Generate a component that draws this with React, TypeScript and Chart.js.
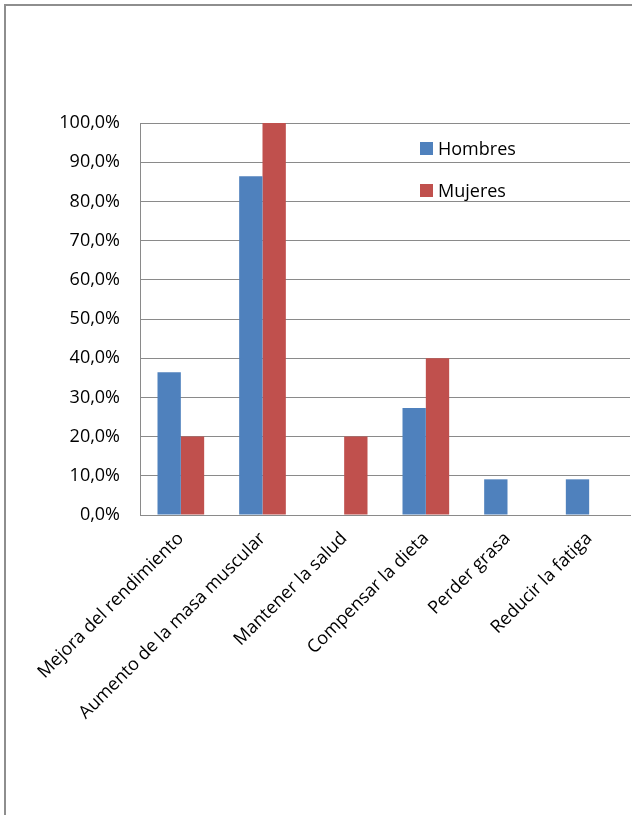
import React, { useEffect, useRef } from "react";
import { Chart, registerables } from "chart.js";

Chart.register(...registerables);

// Motivos de consumo por sexo (%)
const categories = [
  "Mejora del rendimiento",
  "Aumento de la masa muscular",
  "Mantener la salud",
  "Compensar la dieta",
  "Perder grasa",
  "Reducir la fatiga",
];
const seriesNames = ["Hombres", "Mujeres"];
const hombres = [36.4, 86.4, 0, 27.3, 9.1, 9.1];
const mujeres = [20, 100, 20, 40, 0, 0];
const yMin = 0;
const yMax = 100;
const yStep = 10;

const BLUE = "#4F81BD";
const RED = "#C0504D";
const GRID = "#8a8a8a";
const FONT = '"Open Sans", "Noto Sans", sans-serif';

const fmtPct = (v: number) => v.toFixed(1).replace(".", ",") + "%";

// Legend drawn inside the plot area, top right
const boxLegend = {
  id: "boxLegend",
  afterDraw(chart: any) {
    const ctx = chart.ctx;
    ctx.save();
    ctx.font = `18px ${FONT}`;
    ctx.textBaseline = "middle";
    ctx.textAlign = "left";
    chart.data.datasets.forEach((ds: any, i: number) => {
      const cy = 148.5 + i * 42;
      ctx.fillStyle = ds.backgroundColor;
      ctx.fillRect(420, cy - 6.5, 13, 13);
      ctx.fillStyle = "#000";
      ctx.fillText(ds.label, 438, cy + 1);
    });
    ctx.restore();
  },
};

export default function App() {
  const canvasRef = useRef<HTMLCanvasElement | null>(null);

  useEffect(() => {
    if (!canvasRef.current) return;
    const chart = new Chart(canvasRef.current, {
      type: "bar",
      data: {
        labels: categories,
        datasets: [
          { label: seriesNames[0], data: hombres, backgroundColor: BLUE, borderWidth: 0 },
          { label: seriesNames[1], data: mujeres, backgroundColor: RED, borderWidth: 0 },
        ],
      },
      options: {
        animation: false,
        responsive: false,
        maintainAspectRatio: false,
        layout: { padding: { top: 123, right: 2, left: 0, bottom: 0 } },
        datasets: {
          bar: { categoryPercentage: 2 / 3.5, barPercentage: 1 },
        },
        plugins: {
          legend: { display: false },
          tooltip: { enabled: false },
        },
        scales: {
          x: {
            grid: { display: true, drawOnChartArea: false, drawTicks: false },
            border: { display: true, color: GRID, width: 1 },
            ticks: {
              color: "#000",
              font: { family: FONT, size: 18 },
              minRotation: 45,
              maxRotation: 45,
              padding: 13,
              autoSkip: false,
            },
            afterFit(scale: any) {
              scale.height = 300;
            },
          },
          y: {
            min: yMin,
            max: yMax,
            grid: { color: GRID, lineWidth: 1, drawTicks: false },
            border: { display: true, color: GRID, width: 1 },
            ticks: {
              stepSize: yStep,
              color: "#000",
              font: { family: FONT, size: 18 },
              padding: 20,
              callback: (v: any) => fmtPct(Number(v)),
            },
            afterFit(scale: any) {
              scale.width = 140;
            },
          },
        },
      },
      plugins: [boxLegend],
    });
    return () => chart.destroy();
  }, []);

  return (
    <div
      style={{
        position: "absolute",
        left: 0,
        top: 0,
        width: 632,
        height: 815,
        background: "#fff",
        overflow: "hidden",
      }}
    >
      <div
        style={{
          position: "absolute",
          left: 4,
          top: 4,
          width: 700,
          height: 900,
          border: "2px solid #8e8e8e",
          boxSizing: "border-box",
        }}
      />
      <canvas
        ref={canvasRef}
        width={632}
        height={815}
        style={{ position: "absolute", left: 0, top: 0 }}
      />
    </div>
  );
}
